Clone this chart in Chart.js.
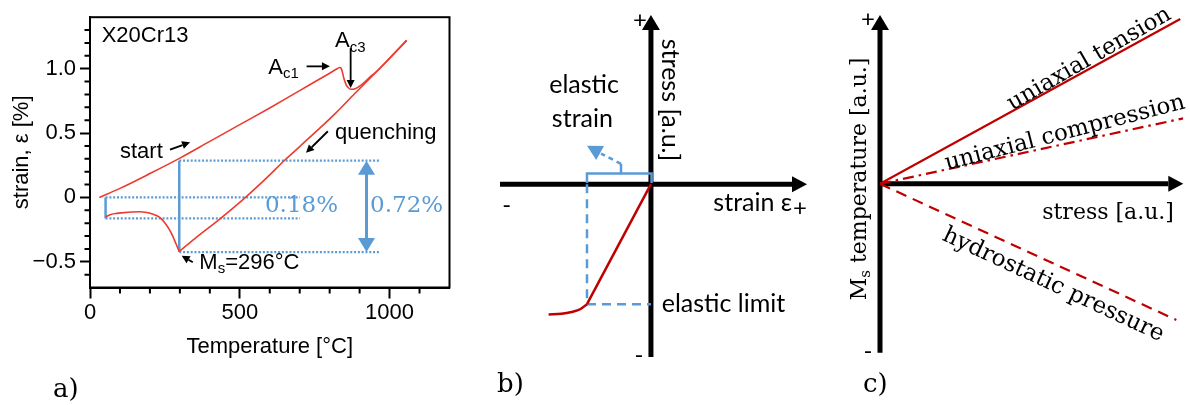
<!DOCTYPE html>
<html>
<head>
<meta charset="utf-8">
<script src="https://cdn.jsdelivr.net/npm/chart.js@4.4.1/dist/chart.umd.min.js"></script>
<style>
  body { margin: 0; background: #fff; width: 1190px; height: 405px; position: relative; overflow: hidden; }
  .panel { position: absolute; top: 0; }
  .tag { position: absolute; font-family: "DejaVu Serif", serif; font-size: 26px; line-height: 26px; color: #000; }
</style>
</head>
<body>
<div class="panel" style="left:0"><canvas id="chart-a" width="460" height="405"></canvas></div>
<div class="panel" style="left:460px"><canvas id="chart-b" width="360" height="405"></canvas></div>
<div class="panel" style="left:820px"><canvas id="chart-c" width="370" height="405"></canvas></div>
<div class="tag" style="left:53px;top:375px">a)</div>
<div class="tag" style="left:497px;top:370px">b)</div>
<div class="tag" style="left:863px;top:370px">c)</div>
<script>
// a) dilatometer curve, X20Cr13
const heatingTemp = [31, 100, 200, 300, 400, 500, 600, 700, 800, 825, 836];
const heatingStrain = [0, 0.07, 0.185, 0.305, 0.435, 0.565, 0.695, 0.83, 0.965, 1.0, 1.012];
const transformTemp = [836, 841, 848, 856, 864, 872, 885, 906, 930, 962, 1000, 1057];
const transformStrain = [1.012, 0.985, 0.92, 0.87, 0.848, 0.84, 0.845, 0.875, 0.925, 0.99, 1.08, 1.22];
const quenchTemp = [298, 350, 435, 519, 600, 648, 700, 821, 883, 962, 1057];
const quenchStrain = [-0.42, -0.32, -0.165, 0, 0.175, 0.285, 0.395, 0.657, 0.805, 0.99, 1.22];
const martensiteTemp = [52, 65, 90, 110, 140, 166, 190, 211, 228, 239, 252, 267, 278, 287, 298];
const martensiteStrain = [-0.152, -0.136, -0.124, -0.119, -0.113, -0.111, -0.118, -0.131, -0.148, -0.169, -0.205, -0.258, -0.31, -0.36, -0.42];
const levelStrain = [0.285, 0, -0.163, -0.425];
const levelStart = [298, 52, 52, 298];
const levelEnd = [968, 701, 701, 968];
const msTemp = 298;
const startTemp = 52;
const tempTicks = [0, 500, 1000];
const strainTicks = [-0.5, 0, 0.5, 1.0];

// b) schematic stress-strain
const yieldStrain = [-0.8, -0.7, -0.62, -0.55, -0.5];
const yieldStress = [-1.085, -1.08, -1.065, -1.04, -1.0];
const elasticStrain = [-0.5, 0];
const elasticStress = [-1.0, 0];

// c) Ms temperature vs stress
const tensionStress = [0, 0.99];
const tensionMs = [0, 0.976];
const compressionStress = [0, 1.0];
const compressionMs = [0, 0.388];
const pressureStress = [0, 0.977];
const pressureMs = [0, -0.806];

const RED = "#ec3b2f";
const DARK_RED = "#c00000";
const BLUE = "#5b9bd5";
const SANS = "'Liberation Sans', Arial, sans-serif";
const SERIF = "'DejaVu Serif', serif";
const CALIBRI = "Lato, 'Noto Sans', sans-serif";

function pairs(xs, ys) {
  return xs.map((x, i) => ({ x: x, y: ys[i] }));
}

function head(ctx, x2, y2, a, color, headLen, headW) {
  const bx = x2 - headLen * Math.cos(a);
  const by = y2 - headLen * Math.sin(a);
  ctx.save();
  ctx.fillStyle = color;
  ctx.beginPath();
  ctx.moveTo(x2, y2);
  ctx.lineTo(bx + (headW / 2) * Math.sin(a), by - (headW / 2) * Math.cos(a));
  ctx.lineTo(bx - (headW / 2) * Math.sin(a), by + (headW / 2) * Math.cos(a));
  ctx.closePath();
  ctx.fill();
  ctx.restore();
}

function arrow(ctx, x1, y1, x2, y2, color, width, headLen, headW) {
  const a = Math.atan2(y2 - y1, x2 - x1);
  ctx.save();
  ctx.strokeStyle = color;
  ctx.lineWidth = width;
  ctx.beginPath();
  ctx.moveTo(x1, y1);
  ctx.lineTo(x2 - headLen * Math.cos(a), y2 - headLen * Math.sin(a));
  ctx.stroke();
  ctx.restore();
  head(ctx, x2, y2, a, color, headLen, headW);
}

// main text, lowered small subscript, then the rest
function subText(ctx, x, y, main, sub, rest, size, family) {
  ctx.save();
  ctx.fillStyle = "#000";
  ctx.textAlign = "left";
  ctx.textBaseline = "middle";
  ctx.font = size + "px " + family;
  ctx.fillText(main, x, y);
  let cx = x + ctx.measureText(main).width;
  ctx.font = Math.round(size * 0.7) + "px " + family;
  ctx.fillText(sub, cx, y + size * 0.3);
  cx += ctx.measureText(sub).width;
  if (rest) {
    ctx.font = size + "px " + family;
    ctx.fillText(rest, cx, y);
  }
  ctx.restore();
}

function text(ctx, str, x, y, font, align, color) {
  ctx.save();
  ctx.font = font;
  ctx.fillStyle = color || "#000";
  ctx.textAlign = align || "left";
  ctx.textBaseline = "middle";
  ctx.fillText(str, x, y);
  ctx.restore();
}

function rotText(ctx, str, x, y, deg, font, color) {
  ctx.save();
  ctx.translate(x, y);
  ctx.rotate((deg * Math.PI) / 180);
  text(ctx, str, 0, 0, font, "center", color);
  ctx.restore();
}

const baseOptions = {
  responsive: false,
  animation: false,
  events: [],
  plugins: { legend: { display: false }, tooltip: { enabled: false } },
  elements: { point: { radius: 0 } },
};

// ---------- panel a ----------
const frameA = {
  id: "frameA",
  afterDraw(chart) {
    const { ctx, chartArea: a, scales } = chart;
    ctx.save();
    ctx.strokeStyle = "#000";
    ctx.lineWidth = 2;
    ctx.strokeRect(a.left, a.top, a.right - a.left, a.bottom - a.top);
    ctx.beginPath();
    for (let t = 100; t < 1200; t += 100) {
      if (tempTicks.includes(t)) continue;
      const px = scales.x.getPixelForValue(t);
      ctx.moveTo(px, a.bottom);
      ctx.lineTo(px, a.bottom + 6);
    }
    for (let k = -6; k <= 13; k++) {
      if (k % 5 === 0) continue;
      const py = scales.y.getPixelForValue(k / 10);
      ctx.moveTo(a.left, py);
      ctx.lineTo(a.left - 5.5, py);
    }
    ctx.stroke();
    ctx.restore();
  },
};

const annotateA = {
  id: "annotateA",
  afterDatasetsDraw(chart) {
    const { ctx } = chart;
    const X = (v) => chart.scales.x.getPixelForValue(v);
    const Y = (v) => chart.scales.y.getPixelForValue(v);
    const font = "22px " + SANS;

    text(ctx, "X20Cr13", X(39), Y(1.252), font);
    text(ctx, "start", X(100), Y(0.354), font);
    arrow(ctx, X(267), Y(0.371), X(334), Y(0.428), "#000", 1.8, 8, 8);
    text(ctx, "quenching", X(818), Y(0.498), font);
    arrow(ctx, X(794), Y(0.514), X(721), Y(0.346), "#000", 1.8, 8, 8);
    subText(ctx, X(595), Y(1.008), "A", "c1", "", 22, SANS);
    arrow(ctx, X(723), Y(1.018), X(801), Y(1.018), "#000", 1.8, 8, 8);
    subText(ctx, X(818), Y(1.216), "A", "c3", "", 22, SANS);
    arrow(ctx, X(870), Y(1.16), X(870), Y(0.85), "#000", 1.8, 8, 8);
    subText(ctx, X(365), Y(-0.506), "M", "s", "=296°C", 22, SANS);
    arrow(ctx, X(343), Y(-0.504), X(306), Y(-0.453), "#000", 1.8, 8, 8);

    // double arrow over the total strain step
    const top = Y(levelStrain[0]);
    const bottom = Y(levelStrain[3]);
    ctx.save();
    ctx.strokeStyle = BLUE;
    ctx.lineWidth = 3;
    ctx.beginPath();
    ctx.moveTo(X(923), top + 12);
    ctx.lineTo(X(923), bottom - 12);
    ctx.stroke();
    ctx.restore();
    head(ctx, X(923), top, -Math.PI / 2, BLUE, 14, 17);
    head(ctx, X(923), bottom, Math.PI / 2, BLUE, 14, 17);

    const serif = "23px " + SERIF;
    text(ctx, "0.18%", X(584), Y(-0.065), serif, "left", BLUE);
    text(ctx, "0.72%", X(935), Y(-0.065), serif, "left", BLUE);
  },
};

const redCurve = (xs, ys) => ({
  data: pairs(xs, ys),
  showLine: true,
  borderColor: RED,
  borderWidth: 1.6,
  cubicInterpolationMode: "monotone",
});

new Chart(document.getElementById("chart-a"), {
  type: "scatter",
  data: {
    datasets: [
      redCurve(heatingTemp, heatingStrain),
      redCurve(transformTemp, transformStrain),
      redCurve(quenchTemp, quenchStrain),
      redCurve(martensiteTemp, martensiteStrain),
      ...levelStrain.map((s, i) => ({
        data: [{ x: levelStart[i], y: s }, { x: levelEnd[i], y: s }],
        showLine: true,
        borderColor: BLUE,
        borderWidth: 2.2,
        borderDash: [2, 1.8],
      })),
      {
        data: [{ x: msTemp, y: levelStrain[3] }, { x: msTemp, y: levelStrain[0] }],
        showLine: true,
        borderColor: BLUE,
        borderWidth: 2.5,
      },
      {
        data: [{ x: startTemp, y: levelStrain[2] }, { x: startTemp, y: levelStrain[1] }],
        showLine: true,
        borderColor: BLUE,
        borderWidth: 2.5,
      },
    ],
  },
  options: {
    ...baseOptions,
    layout: { padding: { left: 0, right: 10.5, top: 11.5, bottom: 37.5 } },
    scales: {
      x: {
        type: "linear",
        min: 0,
        max: 1200,
        afterBuildTicks: (s) => { s.ticks = tempTicks.map((v) => ({ value: v })); },
        afterFit: (s) => { s.height = 80; },
        grid: { drawOnChartArea: false, drawTicks: true, tickLength: 11, tickWidth: 2, tickColor: "#000" },
        border: { display: true, color: "#000", width: 2 },
        ticks: {
          color: "#000",
          font: { family: SANS, size: 22 },
          padding: 1,
          maxRotation: 0,
          callback: (v) => String(v),
        },
        title: {
          display: true,
          text: "Temperature [°C]",
          color: "#000",
          font: { family: SANS, size: 22 },
          padding: { top: 0, bottom: 7.6 },
        },
      },
      y: {
        type: "linear",
        min: -0.7,
        max: 1.4,
        afterBuildTicks: (s) => { s.ticks = strainTicks.map((v) => ({ value: v })); },
        afterFit: (s) => { s.width = 90; },
        grid: { drawOnChartArea: false, drawTicks: true, tickLength: 10, tickWidth: 2, tickColor: "#000" },
        border: { display: true, color: "#000", width: 2 },
        ticks: {
          color: "#000",
          font: { family: SANS, size: 22 },
          padding: 4,
          callback: (v) => (v === 0 ? "0" : (v < 0 ? "\u2212" : "") + Math.abs(v).toFixed(1)),
        },
        title: {
          display: true,
          text: "strain, \u03b5 [%]",
          color: "#000",
          font: { family: SANS, size: 22 },
          padding: { top: 8.8, bottom: 0 },
        },
      },
    },
  },
  plugins: [frameA, annotateA],
});

// ---------- panel b ----------
const drawB = {
  id: "drawB",
  beforeDatasetsDraw(chart) {
    const { ctx, chartArea: a } = chart;
    const x0 = chart.scales.x.getPixelForValue(0);
    const y0 = chart.scales.y.getPixelForValue(0);
    arrow(ctx, a.left, y0, a.right, y0, "#000", 5, 15, 16);
    arrow(ctx, x0, a.bottom, x0, a.top, "#000", 5, 15, 18);
  },
  afterDatasetsDraw(chart) {
    const { ctx } = chart;
    const X = (v) => chart.scales.x.getPixelForValue(v);
    const Y = (v) => chart.scales.y.getPixelForValue(v);

    // bracket over the elastic strain
    ctx.save();
    ctx.strokeStyle = BLUE;
    ctx.lineWidth = 2.5;
    ctx.beginPath();
    ctx.moveTo(X(elasticStrain[0]), Y(0.01));
    ctx.lineTo(X(elasticStrain[0]), Y(0.09));
    ctx.lineTo(X(0.005), Y(0.09));
    ctx.lineTo(X(0.005), Y(0.01));
    ctx.moveTo(X(-0.234), Y(0.09));
    ctx.lineTo(X(-0.234), Y(0.17));
    ctx.stroke();
    ctx.setLineDash([5, 4]);
    ctx.beginPath();
    ctx.moveTo(X(-0.234), Y(0.17));
    ctx.lineTo(X(-0.39), Y(0.255));
    ctx.stroke();
    ctx.restore();
    head(ctx, X(-0.5), Y(0.32), Math.atan2(Y(0.32) - Y(0.255), X(-0.5) - X(-0.39)), BLUE, 15, 16);

    const font = "25px " + CALIBRI;
    text(ctx, "elastic", X(-0.523), Y(0.826), font, "center");
    text(ctx, "strain", X(-0.536), Y(0.548), font, "center");
    text(ctx, "elastic limit", X(0.084), Y(-0.999), font, "left");
    text(ctx, "strain \u03b5", X(0.488), Y(-0.156), font, "left");
    rotText(ctx, "stress [a.u.]", X(0.149), Y(0.702), 90, font);
    const sign = "24px " + CALIBRI;
    text(ctx, "+", X(1.165), Y(-0.2), sign, "center");
    text(ctx, "+", X(-0.085), Y(1.368), sign, "center");
    text(ctx, "-", X(-0.093), Y(-1.423), sign, "center");
    text(ctx, "-", X(-1.128), Y(-0.175), sign, "center");
  },
};

new Chart(document.getElementById("chart-b"), {
  type: "scatter",
  data: {
    datasets: [
      {
        data: pairs(yieldStrain, yieldStress),
        showLine: true,
        borderColor: DARK_RED,
        borderWidth: 2.5,
        cubicInterpolationMode: "monotone",
      },
      { data: pairs(elasticStrain, elasticStress), showLine: true, borderColor: DARK_RED, borderWidth: 2.5 },
      {
        data: [{ x: elasticStrain[0], y: 0 }, { x: elasticStrain[0], y: elasticStress[0] }],
        showLine: true,
        borderColor: BLUE,
        borderWidth: 2.5,
        borderDash: [9, 6],
      },
      {
        data: [{ x: elasticStrain[0], y: elasticStress[0] }, { x: 0, y: elasticStress[0] }],
        showLine: true,
        borderColor: BLUE,
        borderWidth: 2.5,
        borderDash: [9, 6],
      },
    ],
  },
  options: {
    ...baseOptions,
    layout: { padding: { left: 40, right: 13, top: 15, bottom: 48 } },
    scales: {
      x: { type: "linear", display: false, min: -1.18, max: 1.22 },
      y: { type: "linear", display: false, min: -1.44, max: 1.41 },
    },
  },
  plugins: [drawB],
});

// ---------- panel c ----------
const drawC = {
  id: "drawC",
  beforeDatasetsDraw(chart) {
    const { ctx, chartArea: a } = chart;
    const x0 = chart.scales.x.getPixelForValue(0);
    const y0 = chart.scales.y.getPixelForValue(0);
    arrow(ctx, x0, y0, a.right, y0, "#000", 5, 15, 16);
    arrow(ctx, x0, a.bottom, x0, a.top, "#000", 5, 15, 18);
  },
  afterDatasetsDraw(chart) {
    const { ctx } = chart;
    const X = (v) => chart.scales.x.getPixelForValue(v);
    const Y = (v) => chart.scales.y.getPixelForValue(v);
    const big = "23px " + SERIF;
    rotText(ctx, "uniaxial tension", X(0.69), Y(0.738), -30, big);
    rotText(ctx, "uniaxial compression", X(0.61), Y(0.3), -14.5, big);
    rotText(ctx, "hydrostatic pressure", X(0.571), Y(-0.599), 25, big);
    text(ctx, "stress [a.u.]", X(0.752), Y(-0.174), "22px " + SERIF, "center");

    // rotated axis title with subscript
    ctx.save();
    ctx.translate(X(-0.066), Y(0.029));
    ctx.rotate(-Math.PI / 2);
    ctx.font = "22px " + SERIF;
    const wM = ctx.measureText("M").width;
    const wRest = ctx.measureText(" temperature [a.u.]").width;
    ctx.font = "15px " + SERIF;
    const wS = ctx.measureText("s").width;
    subText(ctx, -(wM + wS + wRest) / 2, 0, "M", "s", " temperature [a.u.]", 22, SERIF);
    ctx.restore();

    const sign = "24px " + CALIBRI;
    text(ctx, "+", X(-0.04), Y(0.975), sign, "center");
    text(ctx, "-", X(-0.04), Y(-0.994), sign, "center");
  },
};

new Chart(document.getElementById("chart-c"), {
  type: "scatter",
  data: {
    datasets: [
      { data: pairs(tensionStress, tensionMs), showLine: true, borderColor: DARK_RED, borderWidth: 2.2 },
      {
        data: pairs(compressionStress, compressionMs),
        showLine: true,
        borderColor: DARK_RED,
        borderWidth: 2.2,
        borderDash: [11, 5, 2.5, 5],
      },
      {
        data: pairs(pressureStress, pressureMs),
        showLine: true,
        borderColor: DARK_RED,
        borderWidth: 2.2,
        borderDash: [11, 7],
      },
    ],
  },
  options: {
    ...baseOptions,
    layout: { padding: { left: 60, right: 6.7, top: 15, bottom: 52.3 } },
    scales: {
      x: { type: "linear", display: false, min: 0, max: 1 },
      y: { type: "linear", display: false, min: -1, max: 1 },
    },
  },
  plugins: [drawC],
});
</script>
</body>
</html>
